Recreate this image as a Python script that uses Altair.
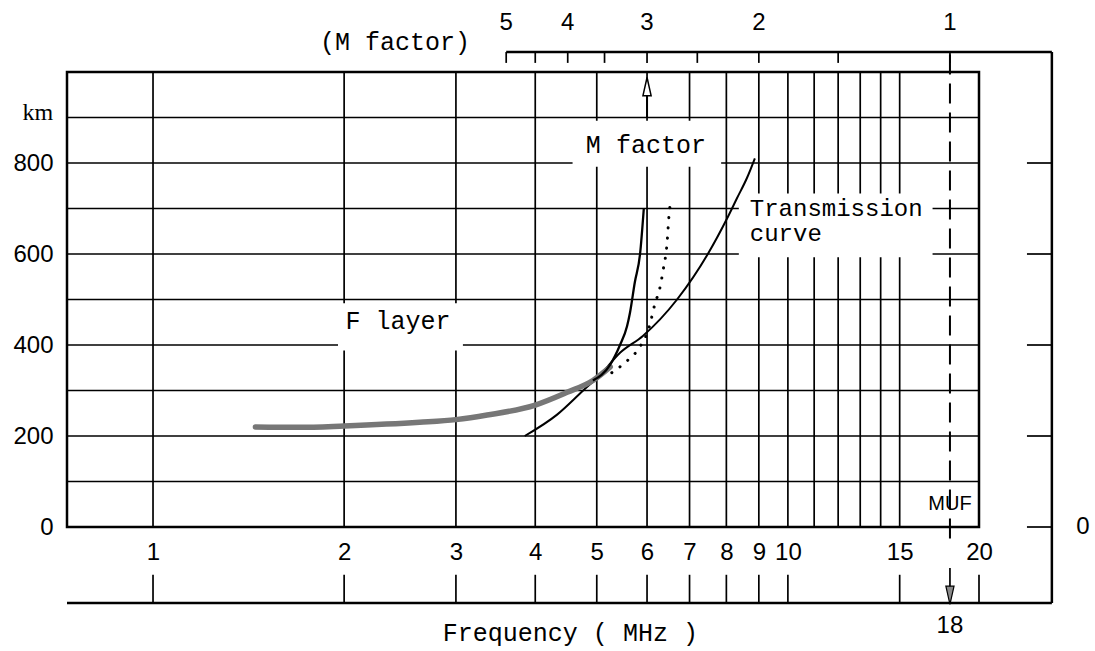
import altair as alt
import pandas as pd

# ---- axis values -------------------------------------------------------
freq_ticks = [1, 2, 3, 4, 5, 6, 7, 8, 9, 10, 15, 20]          # MHz labels
grid_freqs = [1, 2, 3, 4, 5, 6, 7, 8, 9, 10, 11, 12, 13, 14, 15]
grid_heights = [100, 200, 300, 400, 500, 600, 700, 800, 900]  # km
height_labels = [0, 200, 400, 600, 800]
m_ticks = [5, 4.5, 4, 3.5, 3, 2.5, 2, 1.5, 1]                 # M factor scale
m_labels = [5, 4, 3, 2, 1]
muf_mhz = 18.0
m_factor = 3

# ---- curves (frequency MHz, virtual height km) -------------------------
f_layer_f = [1.45, 1.7, 2.0, 2.63, 3.0, 3.36, 4.0, 4.49, 4.93, 5.25]
f_layer_h = [220, 219, 222, 230, 236, 246, 268, 296, 322, 352]

trace_f = [4.93, 5.25, 5.44, 5.58, 5.64, 5.74, 5.85, 5.93]
trace_h = [322, 357, 400, 441, 471, 538, 600, 700]

dotted_f = [5.28, 5.58, 5.80, 6.06, 6.17, 6.29, 6.36, 6.45, 6.50, 6.54]
dotted_h = [339, 365, 389, 444, 489, 527, 564, 622, 687, 718]

trans_f = [3.85, 4.33, 4.76, 5.06, 5.44, 5.91, 6.69, 7.48, 8.02, 8.31, 8.62, 8.87]
trans_h = [200, 247, 300, 334, 383, 420, 500, 600, 678, 722, 767, 810]

# ---- layout constants (data units) -------------------------------------
F_MIN, F_MAX = 0.732, 20.0
H_MIN, H_MAX = 0, 1000
F_FRAME = 26.05        # outer right frame
F_RTICK = 23.8         # inner end of right-hand ticks
H_LOWER = -167         # lower frequency scale line
H_LTICK = -105         # top of lower scale ticks
H_MAXIS = 1044         # M factor scale line
H_MTICK = 1020

SANS = "Liberation Sans"
MONO = "Liberation Mono"

xs = alt.Scale(type="log", domain=[F_MIN, F_MAX], nice=False)
ys = alt.Scale(domain=[H_MIN, H_MAX], nice=False, zero=False)

xaxis = alt.Axis(values=freq_ticks, format="d", domain=False, ticks=False, grid=False,
                 labelPadding=13, labelFontSize=24, labelFont=SANS, labelColor="black",
                 labelFlush=False, labelOverlap=False, title=None)
yaxis = alt.Axis(values=height_labels, domain=False, ticks=False, grid=False,
                 labelPadding=14, labelFontSize=24, labelFont=SANS, labelColor="black",
                 labelFlush=False, labelOverlap=False, title=None)


def X(field="f"):
    return alt.X(f"{field}:Q", scale=xs, axis=xaxis)


def Y(field="h"):
    return alt.Y(f"{field}:Q", scale=ys, axis=yaxis)


# ---- grid ----------------------------------------------------------------
vgrid = alt.Chart(pd.DataFrame({"f": grid_freqs, "h": H_MIN, "h2": H_MAX})).mark_rule(
    color="black", strokeWidth=1.7).encode(x=X(), y=Y(), y2="h2:Q")
hgrid = alt.Chart(pd.DataFrame({"h": grid_heights, "f": F_MIN, "f2": F_MAX})).mark_rule(
    color="black", strokeWidth=1.7).encode(x=X(), x2="f2:Q", y=Y())

# white label boxes that break the grid
boxes = pd.DataFrame({
    "f": [1.956, 4.58, 8.37, 16.3],
    "f2": [3.077, 7.85, 16.9, 19.7],
    "h": [388, 792, 593, 15],
    "h2": [492, 893, 733, 85],
})
box_layer = alt.Chart(boxes).mark_rect(fill="white").encode(
    x=X(), x2="f2:Q", y=Y(), y2="h2:Q")

# ---- frame outside the plot --------------------------------------------
outer = pd.DataFrame({
    "f": [F_MIN, F_FRAME, muf_mhz / m_labels[0]],
    "f2": [F_FRAME, F_FRAME, F_FRAME],
    "h": [H_LOWER, H_LOWER, H_MAXIS],
    "h2": [H_LOWER, H_MAXIS, H_MAXIS],
})
outer_layer = alt.Chart(outer).mark_rule(color="black", strokeWidth=2.5).encode(
    x=X(), x2="f2:Q", y=Y(), y2="h2:Q")

lower_ticks = alt.Chart(pd.DataFrame({"f": freq_ticks, "h": H_LTICK, "h2": H_LOWER})).mark_rule(
    color="black", strokeWidth=1.7).encode(x=X(), y=Y(), y2="h2:Q")

right_ticks = alt.Chart(pd.DataFrame({"h": height_labels, "f": F_RTICK, "f2": F_FRAME})).mark_rule(
    color="black", strokeWidth=1.7).encode(x=X(), x2="f2:Q", y=Y())

m_df = pd.DataFrame({"f": [muf_mhz / m for m in m_ticks], "h": H_MAXIS, "h2": H_MTICK})
m_tick_layer = alt.Chart(m_df).mark_rule(color="black", strokeWidth=1.7).encode(
    x=X(), y=Y(), y2="h2:Q")

m_lab = pd.DataFrame({"f": [muf_mhz / m for m in m_labels], "h": 1108,
                      "t": [str(m) for m in m_labels]})
m_label_layer = alt.Chart(m_lab).mark_text(font=SANS, fontSize=24, baseline="middle",
                                            align="center", color="black").encode(
    x=X(), y=Y(), text="t:N")

# MUF dashed line and arrows
muf_line = alt.Chart(pd.DataFrame({"f": [muf_mhz], "h": [-25], "h2": [H_MAXIS]})).mark_rule(
    color="black", strokeWidth=2, strokeDash=[20, 9]).encode(x=X(), y=Y(), y2="h2:Q")
muf_shaft = alt.Chart(pd.DataFrame({"f": [muf_mhz], "h": [-90], "h2": [H_LOWER]})).mark_rule(
    color="black", strokeWidth=1.7).encode(x=X(), y=Y(), y2="h2:Q")
muf_head = alt.Chart(pd.DataFrame({"f": [muf_mhz], "h": [-150]})).mark_point(
    shape="M0,1L0.45,-1L-0.45,-1Z", size=330, filled=True, fill="#8a8a8a",
    stroke="black", strokeWidth=1.2, opacity=1).encode(x=X(), y=Y())

fo_f = muf_mhz / m_factor
fo_shaft = alt.Chart(pd.DataFrame({"f": [fo_f], "h": [900], "h2": [985]})).mark_rule(
    color="black", strokeWidth=2).encode(x=X(), y=Y(), y2="h2:Q")
fo_head = alt.Chart(pd.DataFrame({"f": [fo_f], "h": [968]})).mark_point(
    shape="M0,-1L0.45,1L-0.45,1Z", size=330, filled=True, fill="white",
    stroke="black", strokeWidth=1.5, opacity=1).encode(x=X(), y=Y())

# ---- curves --------------------------------------------------------------
trans = alt.Chart(pd.DataFrame({"f": trans_f, "h": trans_h})).mark_line(
    color="black", strokeWidth=2, interpolate="monotone").encode(x=X(), y=Y())
dotted = alt.Chart(pd.DataFrame({"f": dotted_f, "h": dotted_h})).mark_line(
    color="black", strokeWidth=3, strokeDash=[0.1, 10], strokeCap="round",
    interpolate="monotone").encode(x=X(), y=Y())
trace = alt.Chart(pd.DataFrame({"f": trace_f, "h": trace_h})).mark_line(
    color="black", strokeWidth=2.3, interpolate="monotone").encode(x=X(), y=Y())
f_layer = alt.Chart(pd.DataFrame({"f": f_layer_f, "h": f_layer_h})).mark_line(
    color="#777777", strokeWidth=5.5, strokeCap="round", interpolate="monotone").encode(x=X(), y=Y())

# ---- text ----------------------------------------------------------------
mono_text = pd.DataFrame({
    "f": [2.405, 5.975, 2.432],
    "h": [1048, 822, 435],
    "t": ["(M factor)", "M factor", "F layer"],
})
mono_layer = alt.Chart(mono_text).mark_text(font=MONO, fontSize=25, align="center",
                                             baseline="alphabetic", color="black").encode(
    x=X(), y=Y(), text="t:N")

curve_text = pd.DataFrame({
    "f": [8.71, 8.71],
    "h": [683, 628],
    "t": ["Transmission", "curve"],
})
curve_layer = alt.Chart(curve_text).mark_text(font=MONO, fontSize=24, align="left",
                                               baseline="alphabetic", color="black").encode(
    x=X(), y=Y(), text="t:N")

title_layer = alt.Chart(pd.DataFrame({"f": [2.861], "h": [-251],
                                      "t": ["Frequency ( MHz )"]})).mark_text(
    font=MONO, fontSize=25, align="left", baseline="alphabetic", color="black").encode(
    x=X(), y=Y(), text="t:N")

sans_text = pd.DataFrame({
    "f": [muf_mhz, 29.15],
    "h": [-218, 0],
    "t": ["18", "0"],
})
sans_layer = alt.Chart(sans_text).mark_text(font=SANS, fontSize=24, align="center",
                                             baseline="middle", color="black").encode(
    x=X(), y=Y(), text="t:N")

muf_label = alt.Chart(pd.DataFrame({"f": [muf_mhz], "h": [50], "t": ["MUF"]})).mark_text(
    font=SANS, fontSize=20, align="center", baseline="middle",
    color="black").encode(x=X(), y=Y(), text="t:N")

km_label = alt.Chart(pd.DataFrame({"f": [0.696], "h": [909], "t": ["km"]})).mark_text(
    font="Liberation Serif", fontSize=24, align="right", baseline="middle",
    color="black").encode(x=X(), y=Y(), text="t:N")

chart = alt.layer(
    vgrid, hgrid, box_layer, outer_layer, lower_ticks, right_ticks, m_tick_layer,
    muf_line, muf_shaft, muf_head, fo_shaft, fo_head,
    trans, dotted, f_layer, trace,
    m_label_layer, mono_layer, curve_layer, title_layer, sans_layer, muf_label, km_label,
).properties(
    width=912, height=455,
    padding={"left": 67, "top": 72, "right": 116, "bottom": 124},
    autosize=alt.AutoSizeParams(type="none"),
    background="white",
).configure_view(stroke="black", strokeWidth=2.5)

chart.save("out.html", embed_options={"renderer": "svg", "actions": False})
